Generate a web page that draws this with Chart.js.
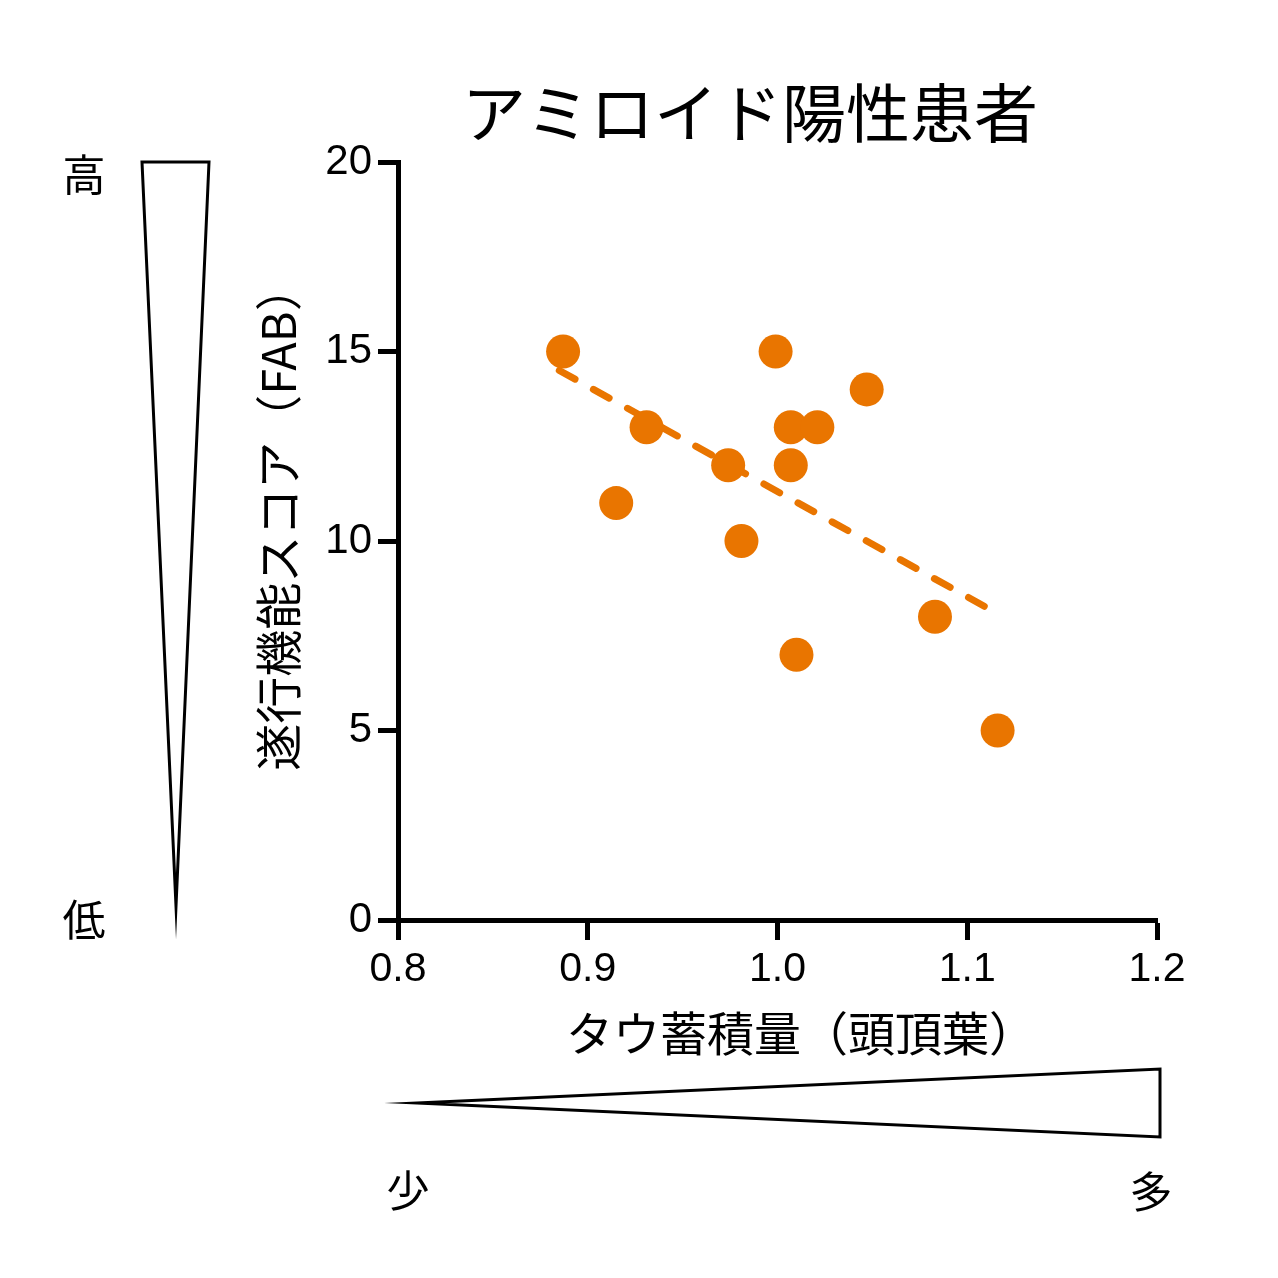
<!DOCTYPE html>
<html lang="ja">
<head>
<meta charset="utf-8">
<title>アミロイド陽性患者</title>
<script src="https://cdn.jsdelivr.net/npm/chart.js@4.4.1/dist/chart.umd.min.js"></script>
<style>
    html, body { margin: 0; padding: 0; background: #fff; }
    #wrap { width: 1278px; height: 1278px; }
</style>
</head>
<body>
<div id="wrap"><canvas id="chart" width="1278" height="1278"></canvas></div>
<script>
// Data
const tauX = [0.887, 0.915, 0.931, 0.974, 0.981, 0.999, 1.007, 1.007, 1.021, 1.010, 1.047, 1.083, 1.116];
const fabY = [15, 11, 13, 12, 10, 15, 13, 12, 13, 7, 14, 8, 5];
const trendX = [0.885, 1.110];
const trendY = [14.5, 8.25];
const xTicks = [0.8, 0.9, 1.0, 1.1, 1.2];
const yTicks = [0, 5, 10, 15, 20];

const chartTitle = 'アミロイド陽性患者';
const xTitle = 'タウ蓄積量（頭頂葉）';
const yTitle = '遂行機能スコア（FAB）';
const yArrowLabels = ['高', '低'];
const xArrowLabels = ['少', '多'];

const ORANGE = '#e97500';
const NUM_FONT = "'Liberation Sans', Arial, sans-serif";
const JP_FONT = "'Noto Sans CJK JP', 'Noto Sans', sans-serif";
// ideographic space in front nudges the centred axis titles like the original
const LEAD = '\u3000';

// title, wedge arrows and their labels
const decorations = {
    id: 'decorations',
    afterDraw(chart) {
        const { ctx, chartArea } = chart;
        ctx.save();
        ctx.fillStyle = '#000';
        ctx.textAlign = 'center';
        ctx.textBaseline = 'middle';
        ctx.font = `64px ${JP_FONT}`;
        ctx.fillText(chartTitle, 750, 113);

        ctx.strokeStyle = '#000';
        ctx.lineWidth = 3;
        ctx.lineJoin = 'miter';
        ctx.miterLimit = 40;

        // vertical wedge (high -> low)
        ctx.beginPath();
        ctx.moveTo(142, chartArea.top);
        ctx.lineTo(209, chartArea.top);
        ctx.lineTo(176, chartArea.bottom - 14);
        ctx.closePath();
        ctx.fillStyle = '#fff';
        ctx.fill();
        ctx.stroke();

        // horizontal wedge (few -> many)
        ctx.beginPath();
        ctx.moveTo(chartArea.left + 19, 1103);
        ctx.lineTo(chartArea.right + 3, 1069);
        ctx.lineTo(chartArea.right + 3, 1137);
        ctx.closePath();
        ctx.fill();
        ctx.stroke();

        ctx.fillStyle = '#000';
        ctx.font = `43px ${JP_FONT}`;
        ctx.fillText(yArrowLabels[0], 84, 175);
        ctx.fillText(yArrowLabels[1], 84, 920);
        ctx.fillText(xArrowLabels[0], 408, 1191);
        ctx.fillText(xArrowLabels[1], 1151, 1192);
        ctx.restore();
    }
};

const axisLook = {
    grid: { display: true, drawOnChartArea: false, drawTicks: true, tickLength: 20, tickWidth: 5, tickColor: '#000' },
    border: { display: true, width: 5, color: '#000' }
};

new Chart(document.getElementById('chart'), {
    type: 'scatter',
    data: {
        datasets: [
            {
                label: 'trend',
                type: 'line',
                data: trendX.map((x, i) => ({ x, y: trendY[i] })),
                borderColor: ORANGE,
                borderWidth: 7,
                borderDash: [18, 21],
                borderCapStyle: 'round',
                pointRadius: 0,
                fill: false,
                order: 2
            },
            {
                label: 'patients',
                data: tauX.map((x, i) => ({ x, y: fabY[i] })),
                backgroundColor: ORANGE,
                borderWidth: 0,
                pointRadius: 17,
                pointHoverRadius: 17,
                order: 1
            }
        ]
    },
    options: {
        responsive: false,
        animation: false,
        devicePixelRatio: 1,
        clip: false,
        layout: { padding: { top: 162, right: 121, left: 0, bottom: 0 } },
        plugins: {
            legend: { display: false },
            tooltip: { enabled: false },
            title: { display: false }
        },
        scales: {
            x: {
                type: 'linear',
                min: xTicks[0],
                max: xTicks[xTicks.length - 1],
                afterBuildTicks: (scale) => { scale.ticks = xTicks.map(v => ({ value: v })); },
                afterFit: (scale) => { scale.height = 358; },
                ticks: {
                    color: '#000',
                    padding: 5,
                    font: { family: NUM_FONT, size: 41 },
                    callback: (v) => Number(v).toFixed(1)
                },
                title: {
                    display: true,
                    text: LEAD + xTitle,
                    color: '#000',
                    font: { family: JP_FONT, size: 47 },
                    padding: { top: 0, bottom: 217 }
                },
                ...axisLook
            },
            y: {
                min: yTicks[0],
                max: yTicks[yTicks.length - 1],
                afterBuildTicks: (scale) => { scale.ticks = yTicks.map(v => ({ value: v })); },
                afterFit: (scale) => { scale.width = 398; },
                ticks: {
                    color: '#000',
                    padding: 6,
                    font: { family: NUM_FONT, size: 42 }
                },
                title: {
                    display: true,
                    text: LEAD + yTitle,
                    color: '#000',
                    font: { family: JP_FONT, size: 47 },
                    padding: { top: 250, bottom: 0 }
                },
                ...axisLook
            }
        }
    },
    plugins: [decorations]
});
</script>
</body>
</html>
